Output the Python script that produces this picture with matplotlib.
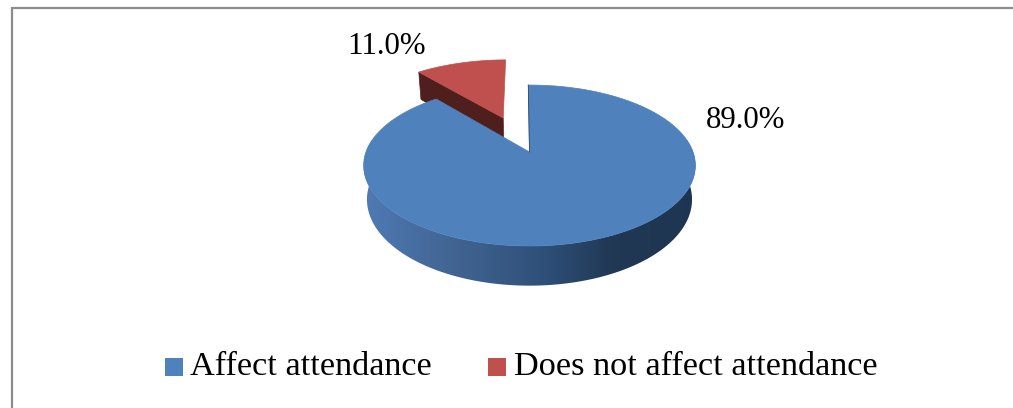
import numpy as np
import matplotlib
matplotlib.use('Agg')
import matplotlib.pyplot as plt
from matplotlib.colors import LinearSegmentedColormap
from matplotlib.patches import Polygon, Rectangle

# data
categories = ['Affect attendance', 'Does not affect attendance']
shares = [89.0, 11.0]
share_labels = ['89.0%', '11.0%']

# colours
blue = '#4f81bd'
red = '#c0504d'
red_dark = '#4f1f1d'
frame = '#8c8c8c'
wall_cmap = LinearSegmentedColormap.from_list('wall', [
    (0.0, (0.31, 0.48, 0.71)), (0.25, (0.26, 0.40, 0.58)), (0.55, (0.18, 0.31, 0.47)),
    (0.75, (0.13, 0.22, 0.33)), (1.0, (0.12, 0.21, 0.32))])

# pie geometry in pixels, seen with a slight perspective
cx, cy = 529.5, 152
fx, fy = 163.5, 78.2
persp = 0.168
depth = 33
bottom_scale = 0.98
explode = 0.5
first_angle = -0.5


def project(x, z, drop=0):
    s = 1 + persp * z
    xs = fx * x / s
    if drop:
        xs = xs * bottom_scale
    return cx + xs, cy - fy * z / s + drop / s


def arc(t0, t1, off_x=0, off_z=0, drop=0, n=200):
    t = np.radians(np.linspace(t0, t1, n))
    return project(off_x + np.sin(t), off_z + np.cos(t), drop)


fig = plt.figure(figsize=(10.13, 4.08), dpi=100)
ax = fig.add_axes([0, 0, 1, 1])

# frame (left and top only)
ax.plot([12, 12, 1013], [408, 7.5, 7.5], color=frame, lw=1.6, solid_joinstyle='miter')

# slices run clockwise from 12 o'clock
blue_end = first_angle + 360 * shares[0] / sum(shares)
red_end = first_angle + 360

# exploded slice
mid = np.radians((blue_end + red_end) / 2)
ox, oz = explode * np.sin(mid), explode * np.cos(mid)
xa, ya = project(ox, oz)
xb, yb = project(ox, oz, depth)
xt, yt = arc(blue_end, red_end, ox, oz)
xl, yl = project(ox + np.sin(np.radians(blue_end)), oz + np.cos(np.radians(blue_end)), depth)
ax.add_patch(Polygon([(xa, ya), (xt[0], yt[0]), (xl, yl), (xb, yb)], closed=True, fc=red_dark, ec=red_dark, lw=0.5))
ax.add_patch(Polygon(list(zip(xt, yt)) + [(xa, ya)], closed=True, fc=red, ec=red, lw=0.5))

# outer wall of the big slice with a left to right shade
x0, y0 = arc(70, 290, n=300)
x1, y1 = arc(70, 290, drop=depth, n=300)
wall = Polygon(list(zip(x0, y0)) + list(zip(x1[::-1], y1[::-1])), closed=True, fc='none', ec='none')
ax.add_patch(wall)
shade = ax.imshow(np.linspace(0, 1, 256).reshape(1, -1), cmap=wall_cmap, vmin=0, vmax=1,
                  extent=(364, 696, 290, 140), aspect='auto', interpolation='bilinear')
shade.set_clip_path(wall)

# top of the big slice
xt, yt = arc(first_angle, blue_end, n=400)
ax.add_patch(Polygon(list(zip(xt, yt)) + [(cx, cy)], closed=True, fc=blue, ec=blue, lw=0.5))
ax.plot([xt[0], cx], [yt[0], cy], color='#2a4a70', lw=0.6)

# value labels
font = 'Liberation Serif'
ax.text(746, 120, share_labels[0], fontsize=22.2, family=font, ha='center', va='center', color='black')
ax.text(386, 46, share_labels[1], fontsize=22.2, family=font, ha='center', va='center', color='black')

# legend
ax.add_patch(Rectangle((165, 358), 18, 18, fc=blue, ec='none'))
ax.add_patch(Rectangle((488, 358), 18, 18, fc=red, ec='none'))
ax.text(190, 367, categories[0], fontsize=24.7, family=font, ha='left', va='center', color='black')
ax.text(514, 367, categories[1], fontsize=24.7, family=font, ha='left', va='center', color='black')

ax.set_xlim(0, 1013)
ax.set_ylim(408, 0)
ax.axis('off')

fig.savefig('out.png', dpi=100)
